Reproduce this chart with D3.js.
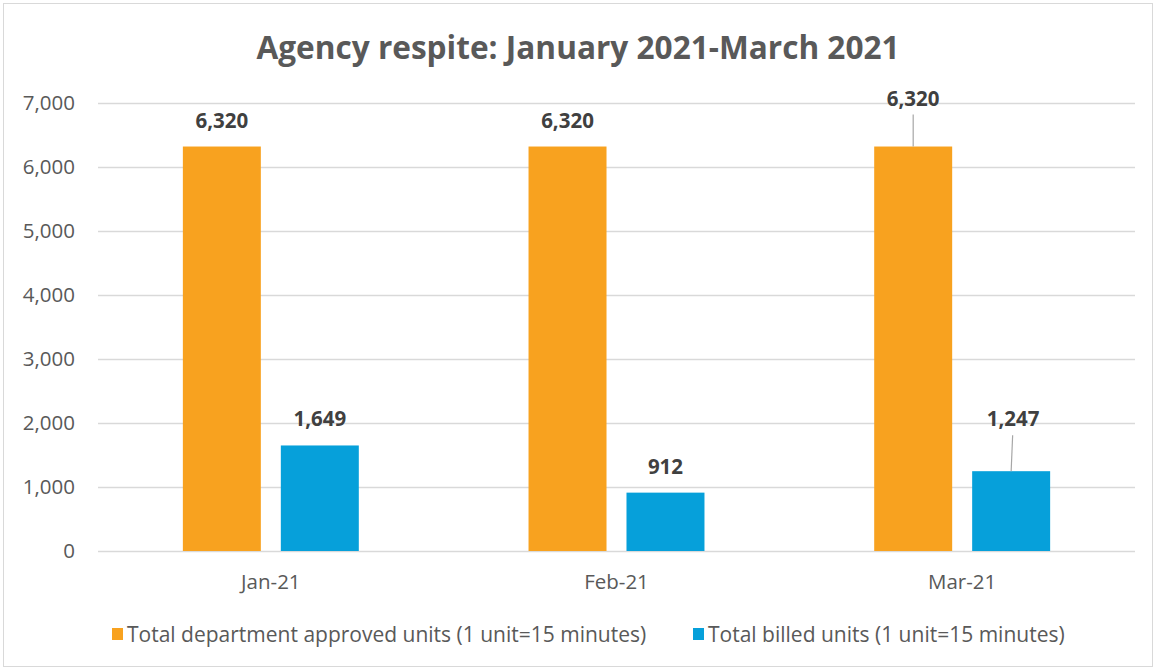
<!DOCTYPE html>
<html>
<head>
<meta charset="utf-8">
<script src="https://cdn.jsdelivr.net/npm/d3@7"></script>
<style>
  body { margin: 0; background: #fff; }
  text { font-family: "Open Sans", "Noto Sans", sans-serif; }
</style>
</head>
<body>
<div id="chart"></div>
<script>
// data
const months = ["Jan-21", "Feb-21", "Mar-21"];
const seriesNames = ["Total department approved units (1 unit=15 minutes)", "Total billed units (1 unit=15 minutes)"];
const approved = [6320, 6320, 6320];
const billed = [1649, 912, 1247];
const yTicks = [0, 1000, 2000, 3000, 4000, 5000, 6000, 7000];
// labels Excel pushed up with a leader line (pixels)
const approvedLift = [0, 0, 22];
const billedLift = [0, 0, 26];

const W = 1156, H = 670;
const colors = ["#F8A21F", "#06A0DA"];
const fmt = d3.format(",");

const svg = d3.select("#chart").append("svg")
  .attr("width", W)
  .attr("height", H);

svg.append("rect")
  .attr("x", 3.5).attr("y", 3.5)
  .attr("width", W - 7).attr("height", H - 7)
  .attr("fill", "#fff").attr("stroke", "#d9d9d9");

svg.append("text")
  .attr("x", 578).attr("y", 59)
  .attr("text-anchor", "middle")
  .style("font-size", "31.6px").style("font-weight", "bold")
  .style("fill", "#595959")
  .text("Agency respite: January 2021-March 2021");

const pLeft = 98, pRight = 1135, pTop = 103, pBottom = 551;

const x0 = d3.scaleBand().domain(months).range([pLeft, pRight])
  .paddingInner(0.491).paddingOuter(0.2455);
const x1 = d3.scaleBand().domain([0, 1]).range([0, x0.bandwidth()])
  .paddingInner(0.204);
const y = d3.scaleLinear().domain([0, 7000]).range([pBottom, pTop]);

// gridlines
svg.append("g").selectAll("line").data(yTicks).join("line")
  .attr("x1", pLeft).attr("x2", pRight)
  .attr("y1", d => Math.round(y(d)) + 0.5).attr("y2", d => Math.round(y(d)) + 0.5)
  .attr("stroke", "#d9d9d9").attr("stroke-width", 1.5);

// y axis labels
const yAxis = svg.append("g").attr("transform", `translate(${pLeft},0)`)
  .call(d3.axisLeft(y).tickValues(yTicks).tickFormat(fmt).tickSize(0).tickPadding(23));
yAxis.select(".domain").remove();
yAxis.selectAll("text").style("font-size", "20.5px").style("fill", "#595959")
  .style("font-family", "'Open Sans', sans-serif");

// x axis labels
const xAxis = svg.append("g").attr("transform", `translate(0,${pBottom})`)
  .call(d3.axisBottom(x0).tickSize(0).tickPadding(23));
xAxis.select(".domain").remove();
xAxis.selectAll("text").style("font-size", "20.5px").style("fill", "#595959")
  .style("font-family", "'Open Sans', sans-serif");

const rows = months.map((m, i) => ({
  month: m,
  vals: [
    { s: 0, v: approved[i], lift: approvedLift[i] },
    { s: 1, v: billed[i], lift: billedLift[i] }
  ]
}));

const groups = svg.append("g").selectAll("g").data(rows).join("g")
  .attr("transform", d => `translate(${x0(d.month)},0)`);

groups.selectAll("rect").data(d => d.vals).join("rect")
  .attr("x", d => x1(d.s))
  .attr("width", x1.bandwidth())
  .attr("y", d => y(d.v))
  .attr("height", d => y(0) - y(d.v))
  .attr("fill", d => colors[d.s]);

// leader lines
groups.selectAll("line.lead").data(d => d.vals.filter(v => v.lift > 0)).join("line")
  .attr("class", "lead")
  .attr("x1", d => x1(d.s) + x1.bandwidth() / 2 + (d.s === 1 ? 1.5 : 0))
  .attr("x2", d => x1(d.s) + x1.bandwidth() / 2)
  .attr("y1", d => y(d.v) - 14 - d.lift + 4)
  .attr("y2", d => y(d.v))
  .attr("stroke", "#a6a6a6").attr("stroke-width", 1.2);

groups.selectAll("text.lbl").data(d => d.vals).join("text")
  .attr("class", "lbl")
  .attr("x", d => x1(d.s) + x1.bandwidth() / 2 + (d.lift > 0 && d.s === 1 ? 2 : 0))
  .attr("y", d => y(d.v) - 19 - d.lift)
  .attr("text-anchor", "middle")
  .style("font-size", "20.5px").style("font-weight", "bold")
  .style("fill", "#404040")
  .text(d => fmt(d.v));

// legend
const legendX = [112, 693];
const leg = svg.append("g").selectAll("g").data(seriesNames).join("g")
  .attr("transform", (d, i) => `translate(${legendX[i]},628)`);
leg.append("rect").attr("width", 11).attr("height", 12)
  .attr("fill", (d, i) => colors[i]);
leg.append("text").attr("x", 15).attr("y", 14)
  .style("font-size", "21px").style("fill", "#595959")
  .text(d => d);
</script>
</body>
</html>
